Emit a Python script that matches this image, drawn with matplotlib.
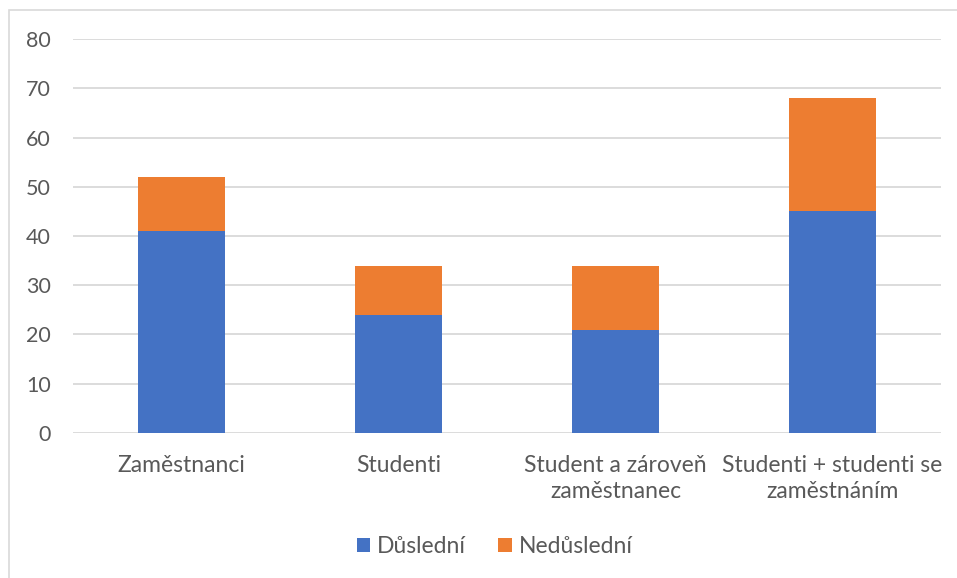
import matplotlib.pyplot as plt
from matplotlib.patches import Rectangle, Patch

# Respondent groups and counts per group
categories = ["Zaměstnanci", "Studenti", "Student a zároveň\nzaměstnanec",
              "Studenti + studenti se\nzaměstnáním"]
dusledni = [41, 24, 21, 45]
nedusledni = [11, 10, 13, 23]
series_names = ["Důslední", "Nedůslední"]
y_ticks = [0, 10, 20, 30, 40, 50, 60, 70, 80]

BLUE = "#4472C4"
ORANGE = "#ED7D31"
TEXT = "#595959"
GRID = "#D9D9D9"

plt.rcParams["font.family"] = ["Lato", "DejaVu Sans"]

fig = plt.figure(figsize=(9.57, 5.78), dpi=100)
ax = fig.add_axes([0.0763, 0.2509, 0.9070, 0.6816])

x = list(range(len(categories)))
ax.bar(x, dusledni, width=0.4, color=BLUE, zorder=3)
ax.bar(x, nedusledni, width=0.4, bottom=dusledni, color=ORANGE, zorder=3)

ax.set_xlim(-0.5, len(categories) - 0.5)
ax.set_ylim(0, 80)
ax.set_yticks(y_ticks)
ax.set_xticks(x)
ax.set_xticklabels(categories, fontsize=16.5, color=TEXT, linespacing=1.3)
ax.tick_params(axis="y", labelsize=15.5, labelcolor=TEXT, length=0, pad=16)
ax.tick_params(axis="x", length=0, pad=16)
ax.grid(axis="y", color=GRID, linewidth=1.3, zorder=0)
for s in ax.spines.values():
    s.set_visible(False)

legend_handles = [Patch(facecolor=BLUE, label=series_names[0]),
                  Patch(facecolor=ORANGE, label=series_names[1])]
fig.legend(handles=legend_handles, loc="center", bbox_to_anchor=(0.517, 0.054),
           ncol=2, frameon=False, fontsize=16.5, labelcolor=TEXT,
           handlelength=0.6, handleheight=0.6, handletextpad=0.3,
           columnspacing=1.4)

# chart area border
fig.add_artist(Rectangle((9 / 957, -0.05), 1.1, 1.05 - 10 / 578,
                         transform=fig.transFigure, fill=False,
                         edgecolor=GRID, linewidth=1.2))

fig.savefig("out.png", dpi=100)
